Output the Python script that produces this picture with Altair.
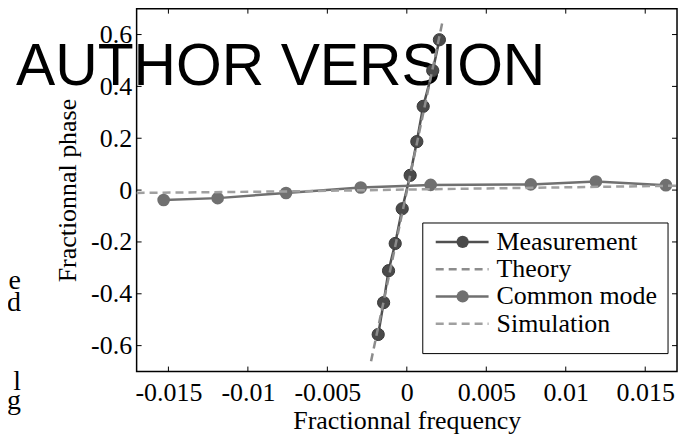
import altair as alt
import pandas as pd

# ---- data ----
meas_x = [-0.0018, -0.00146, -0.00115, -0.00073, -0.00029, 0.00021, 0.00063, 0.00103, 0.00163, 0.00205]
meas_y = [-0.557, -0.434, -0.311, -0.206, -0.072, 0.057, 0.187, 0.323, 0.461, 0.580]
theory_x = [-0.00225, 0.00228]
theory_y = [-0.66, 0.66]
cm_x = [-0.0153, -0.0119, -0.0076, -0.0029, 0.0015, 0.0078, 0.0119, 0.0163]
cm_y = [-0.038, -0.031, -0.011, 0.010, 0.020, 0.022, 0.033, 0.019]
sim_x = [-0.017, -0.0075, 0.0, 0.008, 0.017]
sim_y = [-0.011, -0.005, 0.002, 0.009, 0.017]
x_ticks = [-0.015, -0.01, -0.005, 0, 0.005, 0.01, 0.015]
y_ticks = [-0.6, -0.4, -0.2, 0, 0.2, 0.4, 0.6]
legend_labels = ["Measurement", "Theory", "Common mode", "Simulation"]
legend_rows = [0, 1, 2, 3]
fragments = ["e", "d", "l", "g"]

# ---- styles ----
W, H = 542, 364
FONT = "Liberation Serif"
FS = 26
C_MEAS_LINE = "#505050"
C_MEAS_PT = "#4a4a4a"
C_THEORY = "#8c8c8c"
C_CM = "#707070"
C_SIM = "#a0a0a0"
DASH = [8, 5]

xs = alt.Scale(domain=[-0.017, 0.017], nice=False, zero=False)
ys = alt.Scale(domain=[-0.7, 0.7], nice=False, zero=False)

xaxis = alt.Axis(values=x_ticks, labelExpr="'' + datum.value", ticks=False, domain=False,
                 grid=False, labelFont=FONT, labelFontSize=FS, labelColor="black",
                 labelPadding=8, labelFlush=False, labelOverlap=False,
                 title="Fractionnal frequency", titleFont=FONT, titleFontSize=FS,
                 titleFontWeight="normal", titleColor="black", titlePadding=2, zindex=1)
yaxis = alt.Axis(values=y_ticks, labelExpr="'' + datum.value", ticks=False, domain=False,
                 grid=False, labelFont=FONT, labelFontSize=FS, labelColor="black",
                 labelPadding=5, labelOverlap=False,
                 title="Fractionnal phase", titleFont=FONT, titleFontSize=FS,
                 titleFontWeight="normal", titleColor="black", titlePadding=10, zindex=1)
X = alt.X("x:Q", scale=xs, axis=xaxis)
Y = alt.Y("y:Q", scale=ys, axis=yaxis)

meas_df = pd.DataFrame({"x": meas_x, "y": meas_y})
theory_df = pd.DataFrame({"x": theory_x, "y": theory_y})
cm_df = pd.DataFrame({"x": cm_x, "y": cm_y})
sim_df = pd.DataFrame({"x": sim_x, "y": sim_y})
xt_df = pd.DataFrame({"x": x_ticks})
yt_df = pd.DataFrame({"y": y_ticks})
one = alt.Data(values=[{}])

watermark = alt.Chart(one).mark_text(
    text="AUTHOR VERSION", font="Liberation Sans", fontSize=59, align="left",
    baseline="alphabetic", color="black"
).encode(x=alt.value(-121), y=alt.value(77))

frag_layers = []
frag_y = [281, 303, 383, 402]
for t, yy in zip(fragments, frag_y):
    frag_layers.append(
        alt.Chart(one).mark_text(text=t, font=FONT, fontSize=28, align="right",
                                 baseline="alphabetic", color="black")
        .encode(x=alt.value(-116), y=alt.value(yy))
    )

tick_b = alt.Chart(xt_df).mark_rule(color="black", strokeWidth=1).encode(
    x=X, y=alt.value(H - 5), y2=alt.value(H))
tick_t = alt.Chart(xt_df).mark_rule(color="black", strokeWidth=1).encode(
    x=X, y=alt.value(0), y2=alt.value(5))
tick_l = alt.Chart(yt_df).mark_rule(color="black", strokeWidth=1).encode(
    y=Y, x=alt.value(0), x2=alt.value(5))
tick_r = alt.Chart(yt_df).mark_rule(color="black", strokeWidth=1).encode(
    y=Y, x=alt.value(W - 5), x2=alt.value(W))

meas_line = alt.Chart(meas_df).mark_line(color=C_MEAS_LINE, strokeWidth=2.5).encode(x=X, y=Y)
meas_pts = alt.Chart(meas_df).mark_circle(size=150, color=C_MEAS_PT, opacity=1,
                                          stroke="#383838", strokeWidth=1).encode(x=X, y=Y)
theory_line = alt.Chart(theory_df).mark_line(color=C_THEORY, strokeWidth=2.5,
                                             strokeDash=DASH).encode(x=X, y=Y)
cm_line = alt.Chart(cm_df).mark_line(color=C_CM, strokeWidth=2.5).encode(x=X, y=Y)
cm_pts = alt.Chart(cm_df).mark_circle(size=160, color=C_CM, opacity=1).encode(x=X, y=Y)
sim_line = alt.Chart(sim_df).mark_line(color=C_SIM, strokeWidth=2.5,
                                       strokeDash=DASH).encode(x=X, y=Y)

plot = alt.layer(watermark, *frag_layers, tick_b, tick_t, tick_l, tick_r,
                 meas_line, meas_pts, theory_line, cm_line, cm_pts, sim_line)

# ---- legend (manual, rows placed through a pixel-range scale) ----
leg_df = pd.DataFrame({"label": legend_labels, "row": legend_rows})
LY = alt.Y("row:Q", scale=alt.Scale(domain=[0, 3], range=[234, 316]), axis=None)
colour = alt.Color("label:N", scale=alt.Scale(domain=legend_labels,
                   range=[C_MEAS_LINE, C_THEORY, C_CM, C_SIM]), legend=None)
dash = alt.StrokeDash("label:N", scale=alt.Scale(domain=legend_labels,
                      range=[[1, 0], DASH, [1, 0], DASH]), legend=None)

box = alt.Chart(one).mark_rect(fill="white", stroke="black", strokeWidth=1).encode(
    x=alt.value(287), x2=alt.value(533), y=alt.value(215), y2=alt.value(346))
leg_lines = alt.Chart(leg_df).mark_rule(strokeWidth=2.5).encode(
    x=alt.value(300), x2=alt.value(353), y=LY, color=colour, strokeDash=dash)
leg_pts = alt.Chart(leg_df).transform_filter(
    alt.FieldOneOfPredicate(field="label", oneOf=[legend_labels[0], legend_labels[2]])
).mark_circle(size=150, opacity=1).encode(
    x=alt.value(327), y=LY,
    color=alt.Color("label:N", scale=alt.Scale(domain=legend_labels,
                    range=[C_MEAS_PT, C_THEORY, C_CM, C_SIM]), legend=None))
leg_text = alt.Chart(leg_df).mark_text(font=FONT, fontSize=FS, align="left",
                                       baseline="middle", color="black").encode(
    x=alt.value(361), y=LY, text="label:N")

legend = alt.layer(box, leg_lines, leg_pts, leg_text).resolve_scale(color="independent")

chart = alt.layer(plot, legend).resolve_scale(y="independent").properties(
    width=W, height=H,
    padding={"left": 129, "top": 0, "right": 5, "bottom": 62},
    autosize=alt.AutoSizeParams(type="none"),
).configure_view(stroke="black", strokeWidth=1.5)

chart.save("out.html", embed_options={"renderer": "svg", "actions": False})
